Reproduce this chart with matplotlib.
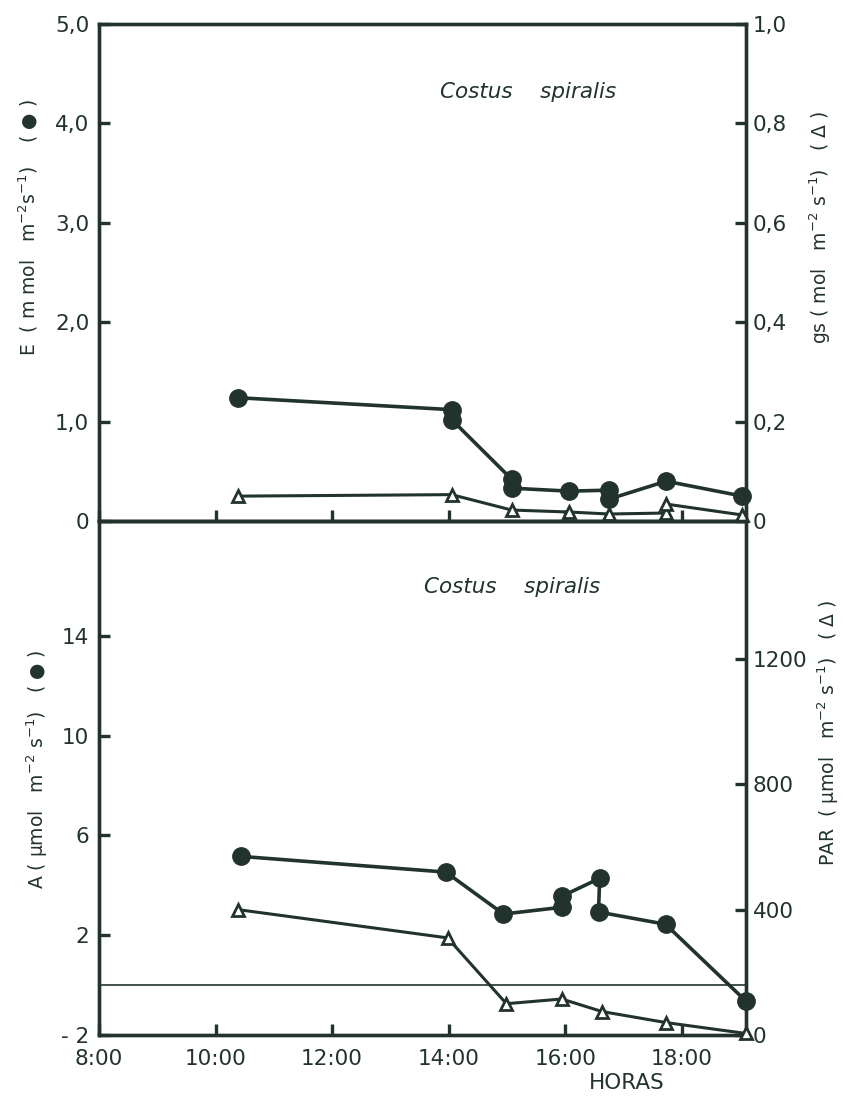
import matplotlib
matplotlib.use('Agg')
import matplotlib.pyplot as plt

ink = '#22332e'

# top panel: transpiration E (circles) and stomatal conductance gs (triangles)
e_hours = [10.39, 14.05, 14.05, 15.08, 15.08, 16.07, 16.75, 16.75, 17.73, 19.04]
e_values = [1.24, 1.12, 1.02, 0.42, 0.33, 0.30, 0.31, 0.22, 0.40, 0.25]
gs_hours = [10.39, 14.05, 15.08, 16.07, 16.75, 17.73, 17.73, 19.04]
gs_values = [0.050, 0.053, 0.022, 0.018, 0.014, 0.016, 0.034, 0.012]

# bottom panel: photosynthesis A (circles) and PAR (triangles)
a_hours = [10.43, 13.95, 14.94, 15.94, 15.94, 16.59, 16.57, 17.72, 19.1]
a_values = [5.16, 4.53, 2.85, 3.12, 3.56, 4.28, 2.93, 2.44, -0.64]
par_hours = [10.39, 13.98, 14.99, 15.94, 16.63, 17.72, 19.1]
par_values = [400, 310, 100, 115, 75, 40, 5]

hour_ticks = [8, 10, 12, 14, 16, 18]
hour_labels = ['8:00', '10:00', '12:00', '14:00', '16:00', '18:00']
e_ticks = [0, 1, 2, 3, 4, 5]
e_labels = ['0', '1,0', '2,0', '3,0', '4,0', '5,0']
gs_ticks = [0, 0.2, 0.4, 0.6, 0.8, 1.0]
gs_labels = ['0', '0,2', '0,4', '0,6', '0,8', '1,0']
a_ticks = [-2, 2, 6, 10, 14]
a_labels = ['- 2', '2', '6', '10', '14']
par_ticks = [0, 400, 800, 1200]

plt.rcParams['font.family'] = ['DejaVu Sans']
plt.rcParams['text.color'] = ink
plt.rcParams['axes.unicode_minus'] = False

fig = plt.figure(figsize=(8.43, 11.12), dpi=100)
ax_top = fig.add_axes([0.1174, 0.5315, 0.7675, 0.4469])
ax_gs = ax_top.twinx()
ax_bot = fig.add_axes([0.1174, 0.0692, 0.7675, 0.4623])
ax_par = ax_bot.twinx()

for ax in (ax_top, ax_gs, ax_bot, ax_par):
    ax.set_xlim(8, 19.1)
    for sp in ax.spines.values():
        sp.set_linewidth(2.4)
        sp.set_color(ink)
    ax.tick_params(direction='in', length=8, width=2.4, colors=ink, labelsize=15.5)
    ax.patch.set_visible(False)

# top panel
ax_top.set_ylim(0, 5)
ax_top.set_yticks(e_ticks)
ax_top.set_yticklabels(e_labels)
ax_top.set_xticks(hour_ticks)
ax_top.tick_params(axis='x', labelbottom=False)
ax_gs.set_ylim(0, 1)
ax_gs.set_yticks(gs_ticks)
ax_gs.set_yticklabels(gs_labels)
ax_top.tick_params(axis='y', pad=7)
ax_gs.tick_params(axis='y', pad=5)

ax_top.plot(e_hours, e_values, '-o', color=ink, lw=2.6, ms=12.5,
            mfc=ink, mec=ink, clip_on=False, zorder=3)
ax_gs.plot(gs_hours, gs_values, '-^', color=ink, lw=2.2, ms=8.5,
           mfc='white', mec=ink, mew=2.0, clip_on=False, zorder=3)

ax_top.text(0.663, 0.863, 'Costus    spiralis', transform=ax_top.transAxes,
            ha='center', va='center', style='italic', fontsize=15.5)

# bottom panel
ax_bot.set_ylim(-2, 18.6)
ax_bot.set_yticks(a_ticks)
ax_bot.set_yticklabels(a_labels)
ax_bot.set_xticks(hour_ticks)
ax_bot.set_xticklabels(hour_labels)
ax_bot.tick_params(axis='x', pad=10)
ax_bot.tick_params(axis='y', pad=7)
ax_par.set_ylim(0, 1640)
ax_par.set_yticks(par_ticks)
ax_par.tick_params(axis='y', pad=5)

ax_bot.axhline(0, color=ink, lw=1.2)
ax_bot.plot(a_hours, a_values, '-o', color=ink, lw=2.6, ms=12.5,
            mfc=ink, mec=ink, clip_on=False, zorder=3)
ax_par.plot(par_hours, par_values, '-^', color=ink, lw=2.2, ms=8.5,
            mfc='white', mec=ink, mew=2.0, clip_on=False, zorder=3)

ax_bot.text(0.638, 0.872, 'Costus    spiralis', transform=ax_bot.transAxes,
            ha='center', va='center', style='italic', fontsize=15.5)

# axis titles
fig.text(0.033, 0.795, 'E  ( m mol   m$^{-2}$s$^{-1}$)    ( ● )', rotation=90,
         ha='center', va='center', fontsize=13.5)
fig.text(0.973, 0.795, 'gs ( mol   m$^{-2}$ s$^{-1}$)   ( Δ )', rotation=90,
         ha='center', va='center', fontsize=13.5)
fig.text(0.044, 0.308, 'A ( μmol   m$^{-2}$ s$^{-1}$)   ( ● )', rotation=90,
         ha='center', va='center', fontsize=13.5)
fig.text(0.982, 0.341, 'PAR  ( μmol   m$^{-2}$ s$^{-1}$)   ( Δ )', rotation=90,
         ha='center', va='center', fontsize=13.5)
fig.text(0.744, 0.026, 'HORAS', ha='center', va='center', fontsize=15.5)

fig.savefig('out.png', dpi=100, facecolor='white')
